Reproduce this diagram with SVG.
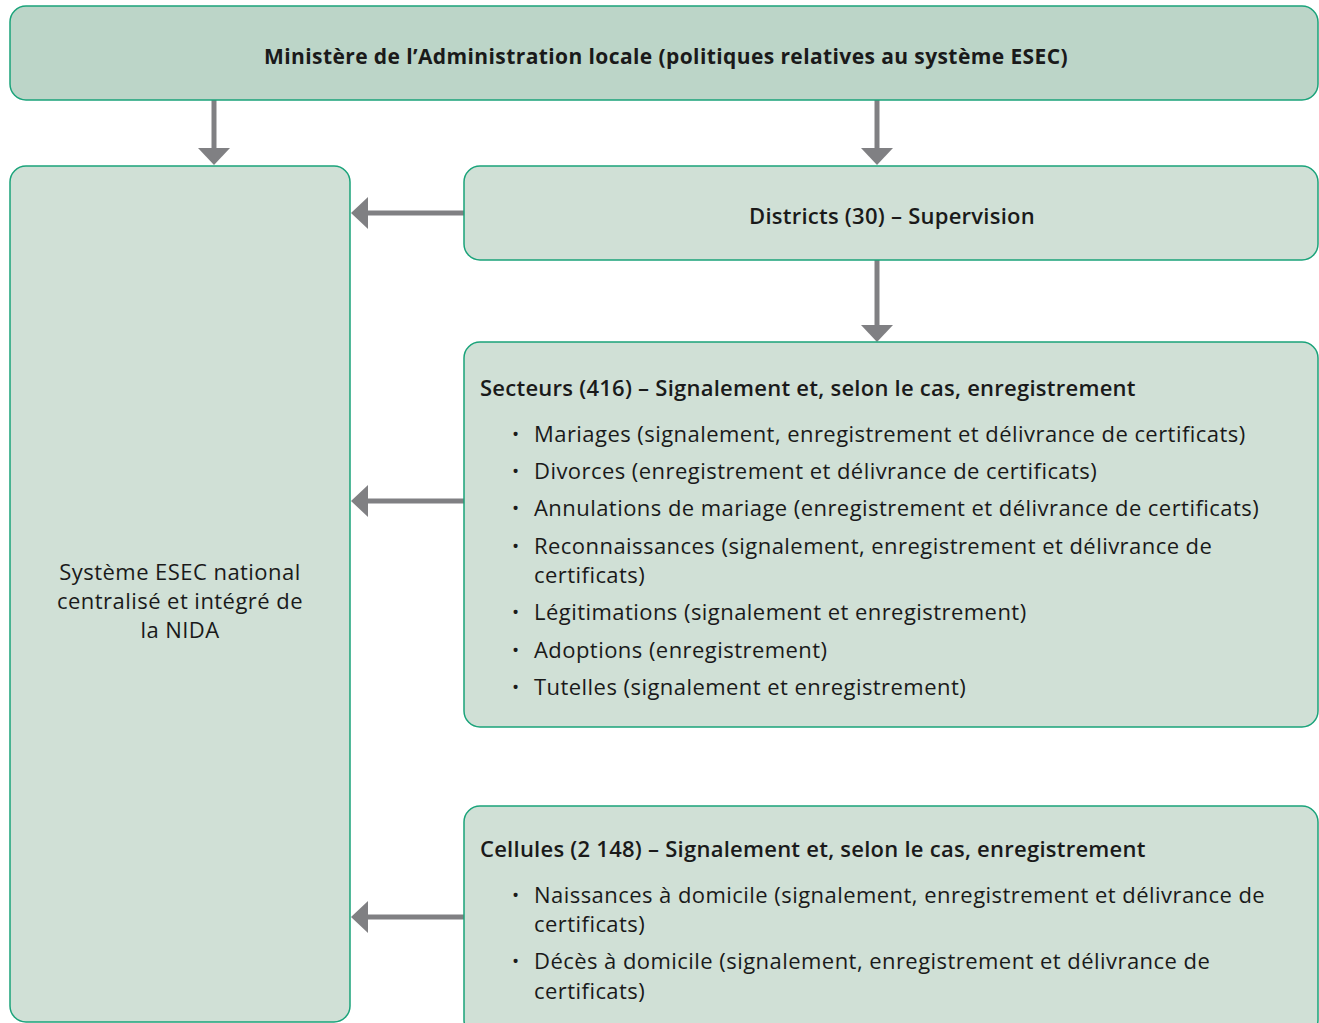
<svg xmlns="http://www.w3.org/2000/svg" width="1319" height="1023" viewBox="0 0 1319 1023">
<defs>
<style>
.box{stroke:#1aa37a;stroke-width:1.5}
.top{fill:#bcd5c8}
.lt{fill:#d0e0d6}
text{font-family:"Open Sans","Liberation Sans",sans-serif;font-size:22px;fill:#1a1a1a;letter-spacing:0.45px}
.b{font-weight:700;font-size:21px;letter-spacing:0.4px}
.sb{font-weight:600;letter-spacing:0.25px}
.c{text-anchor:middle}
.bul{font-size:19px;letter-spacing:0}
.arr{stroke:#808083;stroke-width:5;fill:none}
.ah{fill:#808083}
</style>
</defs>
<rect x="0" y="0" width="1319" height="1023" fill="#ffffff"/>
<g id="connectors">
<line class="arr" x1="214" y1="100" x2="214" y2="150"/>
<polygon class="ah" points="198,148 230,148 214,165"/>
<line class="arr" x1="877" y1="100" x2="877" y2="150"/>
<polygon class="ah" points="861,148 893,148 877,165"/>
<line class="arr" x1="877" y1="260" x2="877" y2="327"/>
<polygon class="ah" points="861,325 893,325 877,342"/>
<line class="arr" x1="464" y1="213" x2="366" y2="213"/>
<polygon class="ah" points="368,197 368,229 351,213"/>
<line class="arr" x1="464" y1="501" x2="366" y2="501"/>
<polygon class="ah" points="368,485 368,517 351,501"/>
<line class="arr" x1="464" y1="917" x2="366" y2="917"/>
<polygon class="ah" points="368,901 368,933 351,917"/>
</g>
<g id="ministere">
<rect class="box top" x="10" y="6" width="1308" height="94" rx="16"/>
<text class="b c" x="666" y="64">Ministère de l’Administration locale (politiques relatives au système ESEC)</text>
</g>
<g id="nida">
<rect class="box lt" x="10" y="166" width="340" height="856" rx="16"/>
<text class="c" x="180" y="580">Système ESEC national</text>
<text class="c" x="180" y="609">centralisé et intégré de</text>
<text class="c" x="180" y="638">la NIDA</text>
</g>
<g id="districts">
<rect class="box lt" x="464" y="166" width="854" height="94" rx="16"/>
<text class="sb c" x="892" y="224">Districts (30) – Supervision</text>
</g>
<g id="secteurs">
<rect class="box lt" x="464" y="342" width="854" height="385" rx="16"/>
<text class="sb" x="480" y="396">Secteurs (416) – Signalement et, selon le cas, enregistrement</text>
<text class="bul" x="512" y="441">•</text><text x="534" y="442">Mariages (signalement, enregistrement et délivrance de certificats)</text>
<text class="bul" x="512" y="478">•</text><text x="534" y="479">Divorces (enregistrement et délivrance de certificats)</text>
<text class="bul" x="512" y="515">•</text><text x="534" y="516">Annulations de mariage (enregistrement et délivrance de certificats)</text>
<text class="bul" x="512" y="553">•</text><text x="534" y="554">Reconnaissances (signalement, enregistrement et délivrance de</text>
<text x="534" y="583">certificats)</text>
<text class="bul" x="512" y="619">•</text><text x="534" y="620">Légitimations (signalement et enregistrement)</text>
<text class="bul" x="512" y="657">•</text><text x="534" y="658">Adoptions (enregistrement)</text>
<text class="bul" x="512" y="694">•</text><text x="534" y="695">Tutelles (signalement et enregistrement)</text>
</g>
<g id="cellules">
<rect class="box lt" x="464" y="806" width="854" height="230" rx="16"/>
<text class="sb" x="480" y="857">Cellules (2 148) – Signalement et, selon le cas, enregistrement</text>
<text class="bul" x="512" y="902">•</text><text x="534" y="903">Naissances à domicile (signalement, enregistrement et délivrance de</text>
<text x="534" y="932">certificats)</text>
<text class="bul" x="512" y="968">•</text><text x="534" y="969">Décès à domicile (signalement, enregistrement et délivrance de</text>
<text x="534" y="999">certificats)</text>
</g>
</svg>
